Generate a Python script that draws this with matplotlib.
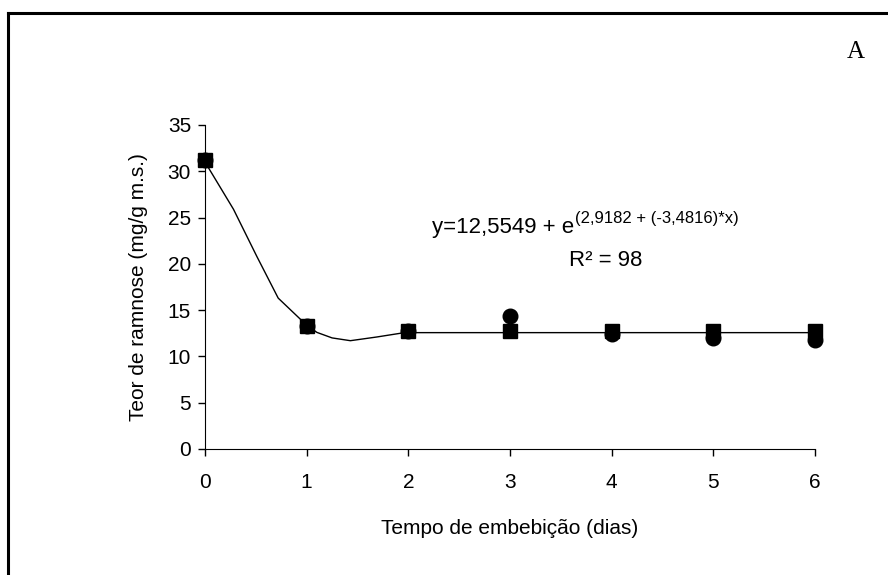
import matplotlib
matplotlib.use("Agg")
import matplotlib.pyplot as plt
from matplotlib.lines import Line2D

plt.rcParams['font.family'] = ['Liberation Sans', 'DejaVu Sans']

# observed values
dias = [0, 1, 2, 3, 4, 5, 6]
serie_circulo = [31.2, 13.3, 12.7, 14.4, 12.4, 12.0, 11.8]
serie_quadrado = [31.2, 13.3, 12.7, 12.7, 12.7, 12.7, 12.7]

# fitted curve
curva_x = [0, 0.28, 0.51, 0.72, 0.94, 1.0, 1.1, 1.25, 1.43, 1.69, 1.95, 2, 3, 4, 5, 6]
curva_y = [31.0, 25.9, 20.8, 16.3, 14.0, 13.4, 12.6, 12.0, 11.7, 12.1, 12.55, 12.57, 12.57, 12.57, 12.57, 12.57]

fs = 15

fig = plt.figure(figsize=(8.88, 5.75), dpi=100)

# outer frame (only top and left edges visible)
fig.add_artist(Line2D([8/888, 8/888], [0, 1 - 13/575], color='black', lw=2.2))
fig.add_artist(Line2D([8/888, 1], [1 - 13/575, 1 - 13/575], color='black', lw=2.2))

ax = fig.add_axes([205/888, 1 - 449/575, 610/888, 324/575])
ax.plot(curva_x, curva_y, color='black', lw=1.0, zorder=2)
ax.plot(dias, serie_circulo, 'o', color='black', ms=10.5, zorder=3)
ax.plot(dias, serie_quadrado, 's', color='black', ms=10.5, zorder=4)

ax.set_xlim(0, 6)
ax.set_ylim(0, 35)
ax.set_xticks(dias)
ax.set_yticks(range(0, 36, 5))
ax.tick_params(direction='out', length=5, width=1, labelsize=fs)
ax.tick_params(axis='x', pad=12)
ax.tick_params(axis='y', pad=5)
for side in ['top', 'right']:
    ax.spines[side].set_visible(False)
for m in ax.get_children():
    if hasattr(m, 'set_clip_on'):
        m.set_clip_on(False)

ax.set_xlabel('Tempo de embebição (dias)', fontsize=fs, labelpad=20)
ax.set_ylabel('Teor de ramnose (mg/g m.s.)', fontsize=fs, labelpad=14)

# equation: base text plus a raised, smaller exponent
eq = ax.text(432/888, 1 - 227/575, 'y=12,5549 + e', transform=fig.transFigure,
             ha='left', va='center', fontsize=fs + 1)
fig.canvas.draw()
bb = eq.get_window_extent()
fig.text(bb.x1 / fig.bbox.width + 0.001, 1 - 219/575, '(2,9182 + (-3,4816)*x)',
         ha='left', va='center', fontsize=fs - 3)
fig.text(606/888, 1 - 260/575, 'R² = 98', ha='center', va='center', fontsize=fs + 1)

fig.text(856/888, 1 - 52/575, 'A', family='Liberation Serif', fontsize=18, ha='center', va='center')

fig.savefig('out.png', dpi=100)
